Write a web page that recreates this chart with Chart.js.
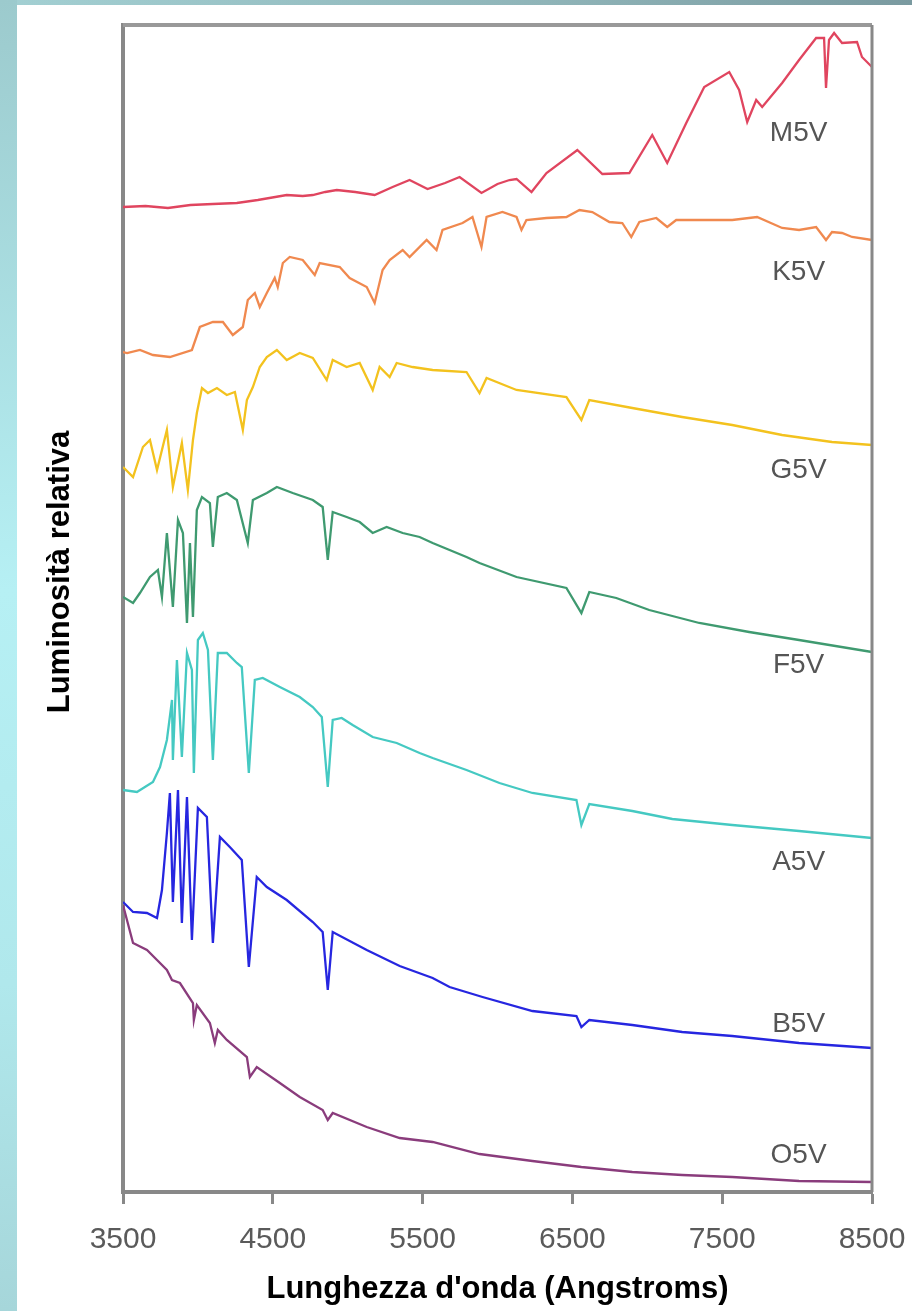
<!DOCTYPE html>
<html>
<head>
<meta charset="utf-8">
<script src="https://cdn.jsdelivr.net/npm/chart.js@4"></script>
<style>
  html, body { margin: 0; padding: 0; }
  body { width: 912px; height: 1311px; position: relative; overflow: hidden; background: #fff; }
  .band-top { position: absolute; left: 0; top: 0; width: 912px; height: 5px;
    background: linear-gradient(to right, #a3d0d3, #8fb4b8 60%, #7a9aa0); }
  .band-left { position: absolute; left: 0; top: 0; width: 17px; height: 1311px;
    background: linear-gradient(to bottom, #9ccacd, #b6f0f4 45%, #b0e8ec 75%, #a6d6da); }
  .panel { position: absolute; left: 17px; top: 5px; width: 895px; height: 1306px; background: #fff; }
</style>
</head>
<body>
<div class="band-top"></div>
<div class="band-left"></div>
<div class="panel"><canvas id="spectraChart" width="895" height="1306"></canvas></div>
<script>
// Spettri (lunghezza d'onda in Angstrom, luminosità relativa con offset verticale)
const m5v = [[3500,98.5],[3650,98.6],[3800,98.4],[3950,98.7],[4100,98.8],[4260,98.9],[4400,99.2],[4593,99.7],[4700,99.6],[4767,99.7],[4850,100.0],[4927,100.2],[5050,100.0],[5180,99.7],[5300,100.5],[5413,101.2],[5533,100.3],[5650,100.9],[5747,101.5],[5893,99.9],[6000,100.8],[6080,101.2],[6127,101.3],[6227,100.0],[6327,101.9],[6533,104.2],[6700,101.8],[6880,101.9],[7033,105.7],[7133,102.9],[7260,106.9],[7380,110.5],[7547,112.0],[7613,110.2],[7667,107.0],[7727,109.2],[7767,108.5],[7900,110.9],[8013,113.2],[8127,115.4],[8180,115.4],[8193,110.4],[8213,115.2],[8247,115.9],[8300,114.9],[8400,115.0],[8433,113.5],[8500,112.5]];
const k5v = [[3500,84.0],[3527,83.9],[3613,84.2],[3700,83.7],[3813,83.5],[3960,84.2],[4013,86.5],[4100,87.0],[4167,87.0],[4233,85.7],[4300,86.5],[4333,89.2],[4380,89.9],[4413,88.5],[4460,89.9],[4513,91.4],[4533,90.5],[4567,92.9],[4613,93.5],[4700,93.2],[4780,91.7],[4813,92.9],[4947,92.5],[5013,91.4],[5127,90.5],[5180,88.9],[5233,92.2],[5280,93.2],[5367,94.2],[5413,93.5],[5527,95.2],[5593,94.2],[5633,96.2],[5767,96.9],[5833,97.5],[5893,94.5],[5927,97.5],[6033,98.0],[6127,97.5],[6160,96.2],[6193,97.2],[6327,97.4],[6460,97.5],[6547,98.2],[6633,98.0],[6747,97.0],[6833,96.9],[6893,95.5],[6947,97.0],[7060,97.4],[7133,96.5],[7193,97.2],[7347,97.2],[7567,97.2],[7733,97.5],[7900,96.4],[8013,96.2],[8127,96.5],[8193,95.2],[8233,96.0],[8300,95.9],[8367,95.5],[8500,95.2]];
const g5v = [[3500,72.5],[3567,71.5],[3633,74.5],[3680,75.2],[3727,72.2],[3793,76.2],[3833,70.5],[3893,74.9],[3933,70.2],[3967,75.2],[3993,77.9],[4027,80.4],[4067,79.9],[4127,80.4],[4193,79.7],[4247,80.0],[4300,76.2],[4327,79.2],[4367,80.5],[4413,82.5],[4460,83.5],[4527,84.2],[4593,83.2],[4680,83.9],[4767,83.4],[4860,81.2],[4900,83.2],[4993,82.5],[5080,82.9],[5167,80.2],[5213,82.5],[5280,81.5],[5327,82.9],[5433,82.5],[5567,82.2],[5793,82.0],[5880,79.9],[5927,81.4],[6127,80.2],[6460,79.5],[6560,77.2],[6613,79.2],[6900,78.4],[7233,77.5],[7567,76.7],[7900,75.7],[8233,75.0],[8500,74.7]];
const f5v = [[3500,59.5],[3567,58.9],[3613,59.9],[3680,61.5],[3733,62.2],[3760,59.5],[3793,65.9],[3833,58.5],[3867,67.2],[3900,65.9],[3927,56.9],[3947,64.9],[3967,57.5],[3993,68.2],[4027,69.5],[4080,68.9],[4100,64.5],[4133,69.5],[4193,69.9],[4260,69.2],[4333,64.9],[4367,69.2],[4460,69.9],[4527,70.5],[4633,69.9],[4767,69.2],[4833,68.5],[4867,63.2],[4900,68.0],[4993,67.5],[5080,67.0],[5167,65.9],[5260,66.5],[5367,65.9],[5480,65.5],[5567,64.9],[5793,63.5],[5880,62.9],[6127,61.5],[6460,60.4],[6560,57.9],[6613,60.0],[6793,59.4],[7013,58.2],[7347,56.9],[7680,56.0],[8013,55.2],[8500,54.0]];
const a5v = [[3500,40.2],[3593,40.0],[3700,41.0],[3747,42.5],[3793,45.2],[3827,49.2],[3833,43.2],[3860,53.2],[3893,43.5],[3927,53.9],[3960,52.2],[3973,41.9],[4000,55.2],[4033,55.9],[4067,54.2],[4100,43.2],[4133,53.9],[4193,53.9],[4260,52.9],[4293,52.5],[4340,41.9],[4380,51.2],[4433,51.4],[4547,50.5],[4680,49.5],[4767,48.5],[4827,47.5],[4867,40.5],[4900,47.2],[4960,47.4],[5033,46.7],[5167,45.5],[5327,44.9],[5480,43.9],[5567,43.4],[5793,42.2],[6013,40.9],[6233,39.9],[6527,39.2],[6560,36.7],[6613,38.8],[6900,38.1],[7167,37.3],[7567,36.7],[8013,36.1],[8500,35.4]];
const b5v = [[3500,29.0],[3567,28.0],[3660,27.9],[3727,27.4],[3760,30.2],[3793,35.9],[3813,39.9],[3833,29.0],[3867,40.2],[3893,26.9],[3927,39.5],[3960,25.2],[4000,38.4],[4060,37.5],[4100,24.9],[4147,35.5],[4213,34.5],[4293,33.2],[4340,22.5],[4393,31.5],[4460,30.5],[4593,29.2],[4767,27.0],[4833,26.0],[4867,20.2],[4900,26.0],[5127,24.2],[5347,22.6],[5567,21.4],[5680,20.5],[5900,19.5],[6233,18.1],[6527,17.6],[6560,16.5],[6613,17.2],[6900,16.7],[7233,16.0],[7567,15.6],[8013,14.9],[8500,14.4]];
const o5v = [[3500,28.7],[3567,24.9],[3660,24.2],[3727,23.2],[3793,22.2],[3827,21.2],[3880,20.9],[3967,18.9],[3973,17.2],[3993,18.7],[4080,16.9],[4113,14.9],[4133,16.2],[4193,15.2],[4327,13.5],[4347,11.5],[4393,12.5],[4547,10.9],[4680,9.5],[4833,8.2],[4867,7.2],[4900,7.9],[5127,6.5],[5347,5.4],[5567,5.0],[5880,3.8],[6233,3.1],[6560,2.5],[6900,2.0],[7233,1.7],[7567,1.5],[8013,1.1],[8500,1.0]];

const starTypes = ['M5V', 'K5V', 'G5V', 'F5V', 'A5V', 'B5V', 'O5V'];
const spectra = [m5v, k5v, g5v, f5v, a5v, b5v, o5v];
const lineColors = ['#e0455f', '#f0894f', '#f3c21e', '#3f9a70', '#45c9c2', '#2626e0', '#8a3c7c'];

const wavelengthTicks = [3500, 4500, 5500, 6500, 7500, 8500];
const labelWave = 8010;
const labelLum = [105.9, 92.0, 72.2, 52.7, 33.0, 16.8, 3.7];
const yTitle = 'Luminosità relativa';
const yTitleLum = 62.0;

// etichette dei tipi spettrali a destra + titolo asse y
const starLabelsPlugin = {
    id: 'starLabels',
    afterDatasetsDraw(chart) {
        const { ctx, scales: { x, y } } = chart;
        ctx.save();
        ctx.font = '28px "Liberation Sans", Arial, sans-serif';
        ctx.fillStyle = '#555';
        ctx.textAlign = 'center';
        ctx.textBaseline = 'middle';
        starTypes.forEach((name, i) => {
            ctx.fillText(name, x.getPixelForValue(labelWave), y.getPixelForValue(labelLum[i]));
        });
        ctx.restore();

        ctx.save();
        ctx.translate(43, y.getPixelForValue(yTitleLum));
        ctx.rotate(-Math.PI / 2);
        ctx.font = 'bold 31px "Liberation Sans", Arial, sans-serif';
        ctx.fillStyle = '#000';
        ctx.textAlign = 'center';
        ctx.textBaseline = 'middle';
        ctx.fillText(yTitle, 0, 0);
        ctx.restore();
    }
};

// bordo superiore e destro del riquadro
const framePlugin = {
    id: 'frame',
    afterDraw(chart) {
        const { ctx, chartArea: a } = chart;
        ctx.save();
        ctx.strokeStyle = '#999';
        ctx.lineWidth = 4;
        ctx.beginPath();
        ctx.moveTo(a.left, a.top);
        ctx.lineTo(a.right, a.top);
        ctx.stroke();
        ctx.strokeStyle = '#888';
        ctx.lineWidth = 3;
        ctx.beginPath();
        ctx.moveTo(a.right, a.top);
        ctx.lineTo(a.right, a.bottom);
        ctx.stroke();
        ctx.restore();
    }
};

const ctx = document.getElementById('spectraChart').getContext('2d');
new Chart(ctx, {
    type: 'line',
    data: {
        datasets: spectra.map((pts, i) => ({
            label: starTypes[i],
            data: pts.map(p => ({ x: p[0], y: p[1] })),
            borderColor: lineColors[i],
            borderWidth: 2.3,
            pointRadius: 0,
            tension: 0
        }))
    },
    options: {
        responsive: false,
        animation: false,
        events: [],
        layout: { padding: { top: 20, right: 40, left: 0, bottom: 0 } },
        plugins: {
            legend: { display: false },
            tooltip: { enabled: false }
        },
        scales: {
            x: {
                type: 'linear',
                min: 3500,
                max: 8500,
                afterBuildTicks: scale => {
                    scale.ticks = wavelengthTicks.map(v => ({ value: v }));
                },
                afterFit: scale => {
                    scale.height = 119;
                    scale.paddingLeft = 0;
                    scale.paddingRight = 0;
                },
                grid: {
                    drawOnChartArea: false,
                    drawTicks: true,
                    tickLength: 12,
                    tickWidth: 3,
                    tickColor: '#888'
                },
                border: { display: true, color: '#888', width: 4 },
                ticks: {
                    padding: 18,
                    maxRotation: 0,
                    autoSkip: false,
                    color: '#5a5a5a',
                    font: { family: '"Liberation Sans", Arial, sans-serif', size: 30 },
                    callback: v => String(v)
                },
                title: {
                    display: true,
                    text: "Lunghezza d'onda (Angstroms)",
                    color: '#000',
                    padding: { top: 0, bottom: 3 },
                    font: { family: '"Liberation Sans", Arial, sans-serif', size: 31, weight: 'bold' }
                }
            },
            y: {
                min: 0,
                max: 116.7,
                afterFit: scale => {
                    scale.width = 106;
                },
                grid: { display: false },
                border: { display: true, color: '#888', width: 4 },
                ticks: { display: false },
                title: { display: false }
            }
        }
    },
    plugins: [starLabelsPlugin, framePlugin]
});
</script>
</body>
</html>
